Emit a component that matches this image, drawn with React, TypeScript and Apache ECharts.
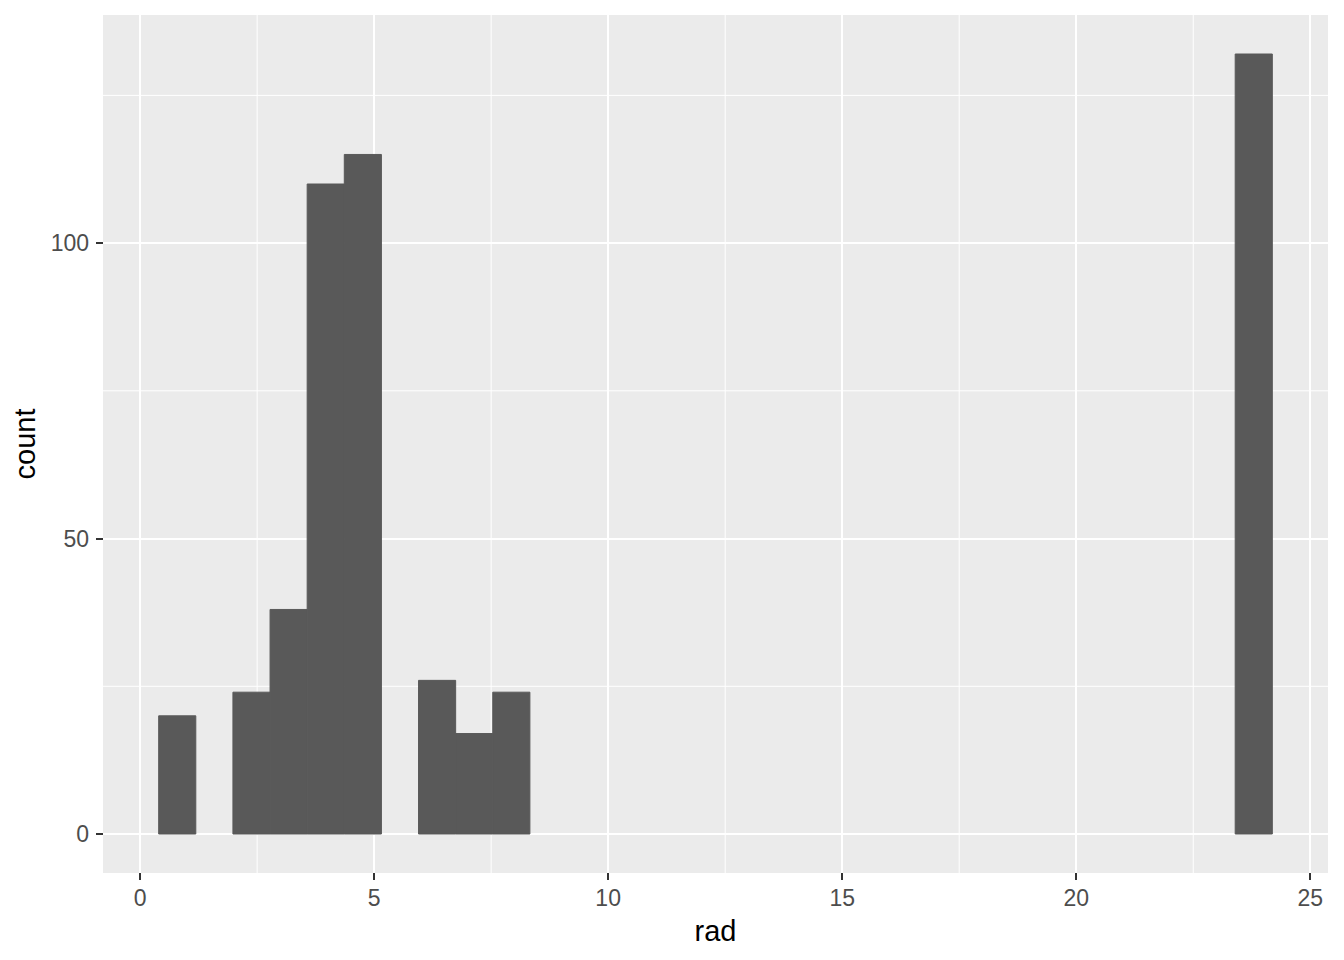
import React, { useEffect, useRef } from "react";
import * as echarts from "echarts";

// Histogram of rad (30 bins, width 23/29), only non-empty bins listed
const binStart = [0.3966, 1.9828, 2.7759, 3.569, 4.3621, 5.9483, 6.7414, 7.5345, 23.3966];
const binEnd = [1.1897, 2.7759, 3.569, 4.3621, 5.1552, 6.7414, 7.5345, 8.3276, 24.1897];
const counts = [20, 24, 38, 110, 115, 26, 17, 24, 132];

const xMinorGrid = [2.5, 7.5, 12.5, 17.5, 22.5];
const yMinorGrid = [25, 75, 125];

const xMin = -0.7931;
const xMax = 25.3793;
const yMin = -6.6;
const yMax = 138.6;

const FONT = "Liberation Sans, Arial, sans-serif";

export default function App() {
  const ref = useRef<HTMLDivElement>(null);
  useEffect(() => {
    if (!ref.current) return;
    const chart = echarts.init(ref.current, undefined, { renderer: "svg" });
    const barData = binStart.map((s, i) => [s, binEnd[i], counts[i]]);
    chart.setOption({
      animation: false,
      backgroundColor: "#FFFFFF",
      grid: {
        left: 103,
        right: 16,
        top: 15,
        bottom: 87,
        show: true,
        backgroundColor: "#EBEBEB",
        borderWidth: 0,
      },
      xAxis: {
        type: "value",
        min: xMin,
        max: xMax,
        minInterval: 5,
        maxInterval: 5,
        name: "rad",
        nameLocation: "middle",
        nameGap: 43,
        nameTextStyle: { color: "#000000", fontSize: 29, fontFamily: FONT },
        axisLine: { show: false, onZero: false },
        axisTick: { show: true, length: 7, lineStyle: { color: "#333333", width: 2 } },
        axisLabel: {
          showMinLabel: false,
          showMaxLabel: false,
          margin: 13,
          color: "#4D4D4D",
          fontSize: 23,
          fontFamily: FONT,
        },
        splitLine: { show: true, showMinLine: false, showMaxLine: false, lineStyle: { color: "#FFFFFF", width: 2 } },
      },
      yAxis: {
        type: "value",
        min: yMin,
        max: yMax,
        minInterval: 50,
        maxInterval: 50,
        name: "count",
        nameLocation: "middle",
        nameGap: 59,
        nameRotate: 90,
        nameTextStyle: { color: "#000000", fontSize: 29, fontFamily: FONT },
        axisLine: { show: false, onZero: false },
        axisTick: { show: true, length: 7, lineStyle: { color: "#333333", width: 2 } },
        axisLabel: {
          showMinLabel: false,
          showMaxLabel: false,
          margin: 14,
          color: "#4D4D4D",
          fontSize: 23,
          fontFamily: FONT,
        },
        splitLine: { show: true, showMinLine: false, showMaxLine: false, lineStyle: { color: "#FFFFFF", width: 2 } },
      },
      series: [
        {
          type: "custom",
          silent: true,
          data: xMinorGrid,
          renderItem: (params: any, api: any) => {
            const cs = params.coordSys;
            const x = api.coord([api.value(0), 0])[0];
            return {
              type: "line",
              shape: { x1: x, y1: cs.y, x2: x, y2: cs.y + cs.height },
              style: { stroke: "#FFFFFF", lineWidth: 1 },
            };
          },
          encode: { x: 0 },
        },
        {
          type: "custom",
          silent: true,
          data: yMinorGrid.map((v) => [0, v]),
          renderItem: (params: any, api: any) => {
            const cs = params.coordSys;
            const y = api.coord([0, api.value(1)])[1];
            return {
              type: "line",
              shape: { x1: cs.x, y1: y, x2: cs.x + cs.width, y2: y },
              style: { stroke: "#FFFFFF", lineWidth: 1 },
            };
          },
          encode: { x: 0, y: 1 },
        },
        {
          type: "custom",
          silent: true,
          data: barData,
          renderItem: (params: any, api: any) => {
            const p0 = api.coord([api.value(0), 0]);
            const p1 = api.coord([api.value(1), api.value(2)]);
            return {
              type: "rect",
              shape: { x: p0[0], y: p1[1], width: p1[0] - p0[0], height: p0[1] - p1[1] },
              style: { fill: "#595959", stroke: "#595959", lineWidth: 1 },
            };
          },
          encode: { x: [0, 1], y: 2 },
        },
      ],
    });
    return () => chart.dispose();
  }, []);
  return <div ref={ref} style={{ width: 1344, height: 960, position: "absolute", left: 0, top: 0 }} />;
}
